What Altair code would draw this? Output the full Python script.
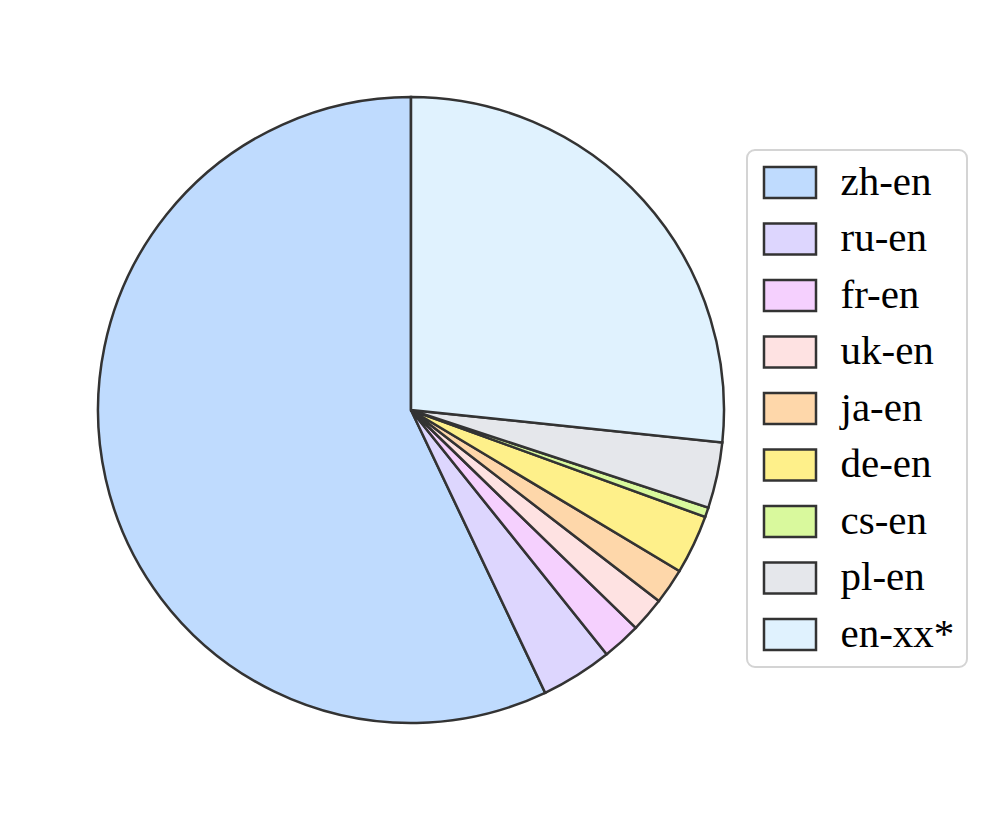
import altair as alt
import pandas as pd

languages = ["zh-en", "ru-en", "fr-en", "uk-en", "ja-en", "de-en", "cs-en", "pl-en", "en-xx*"]
shares = [57.05, 3.7, 2.0, 1.8, 1.85, 3.05, 0.5, 3.4, 26.65]
colors = ["#bfdbfe", "#ddd6fe", "#f5d0fe", "#fee2e2", "#fed7aa", "#fef08a", "#d9f99d", "#e5e7eb", "#e0f2fe"]

df = pd.DataFrame({
    "lang": languages,
    "share": shares,
    "order": list(range(len(languages)))[::-1],
})

chart = (
    alt.Chart(df)
    .mark_arc(outerRadius=313, stroke="#333333", strokeWidth=2.5)
    .encode(
        theta=alt.Theta("share:Q", stack=True),
        order=alt.Order("order:Q", sort="ascending"),
        color=alt.Color(
            "lang:N",
            scale=alt.Scale(domain=languages, range=colors),
            legend=alt.Legend(
                title=None,
                orient="none",
                legendX=734,
                legendY=137,
                symbolType="M-1.576,-0.939H1.576V0.939H-1.576Z",
                symbolSize=1089,
                symbolOffset=10.5,
                symbolStrokeColor="#333333",
                symbolStrokeWidth=2.5,
                symbolOpacity=1,
                labelFont="Liberation Serif",
                labelFontSize=41,
                labelColor="#000000",
                labelOffset=30,
                labelExpr="datum.label + '\u00a0'",
                rowPadding=14.5,
                padding=12,
                strokeColor="#d4d4d4",
                fillColor="#ffffff",
            ),
        ),
    )
    .properties(width=796, height=794)
    .configure_view(stroke=None)
    .configure_legend(strokeWidth=2, cornerRadius=8)
)

chart.save("out.html", embed_options={"renderer": "svg", "actions": False})
